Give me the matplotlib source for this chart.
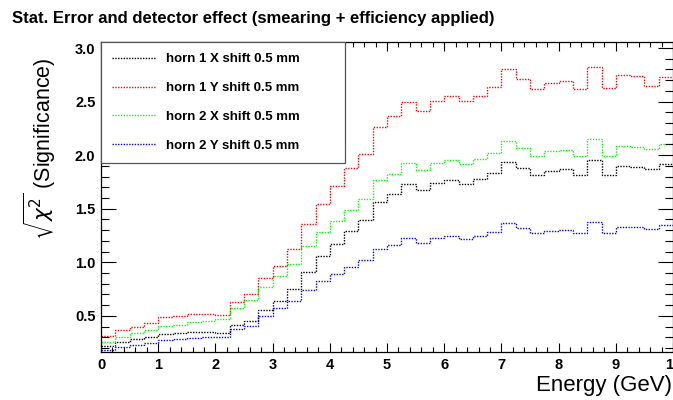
import numpy as np
import matplotlib
matplotlib.use("Agg")
import matplotlib.pyplot as plt
from matplotlib.ticker import MultipleLocator, FormatStrFormatter

plt.rcParams['font.family'] = ['Liberation Sans', 'DejaVu Sans']
plt.rcParams['mathtext.fontset'] = 'dejavusans'

# ----------- Data (40 energy bins, 0.25 GeV wide) -----------
bin_edges = np.linspace(0.0, 10.0, 41)

horn1_x = [0.219, 0.257, 0.285, 0.300, 0.333, 0.340, 0.350, 0.350, 0.337, 0.413,
           0.452, 0.554, 0.635, 0.751, 0.910, 1.056, 1.170, 1.288, 1.394, 1.562,
           1.637, 1.731, 1.675, 1.744, 1.772, 1.735, 1.778, 1.831, 1.934, 1.881,
           1.815, 1.853, 1.869, 1.813, 1.956, 1.813, 1.900, 1.890, 1.872, 1.913]
horn1_y = [0.316, 0.369, 0.400, 0.435, 0.485, 0.503, 0.520, 0.518, 0.507, 0.632,
           0.705, 0.854, 0.963, 1.126, 1.355, 1.548, 1.708, 1.876, 2.013, 2.260,
           2.363, 2.500, 2.415, 2.510, 2.550, 2.506, 2.556, 2.640, 2.800, 2.712,
           2.620, 2.672, 2.690, 2.619, 2.822, 2.625, 2.747, 2.737, 2.647, 2.734]
horn2_x = [0.254, 0.306, 0.341, 0.369, 0.410, 0.419, 0.444, 0.456, 0.470, 0.578,
           0.650, 0.772, 0.869, 0.985, 1.150, 1.283, 1.384, 1.490, 1.594, 1.766,
           1.828, 1.925, 1.862, 1.930, 1.952, 1.916, 1.963, 2.019, 2.134, 2.066,
           1.994, 2.040, 2.050, 1.994, 2.147, 1.990, 2.087, 2.078, 2.056, 2.103]
horn2_y = [0.180, 0.205, 0.230, 0.246, 0.271, 0.285, 0.296, 0.300, 0.300, 0.380,
           0.410, 0.502, 0.575, 0.635, 0.738, 0.830, 0.888, 0.953, 1.017, 1.126,
           1.157, 1.225, 1.182, 1.229, 1.247, 1.216, 1.241, 1.285, 1.363, 1.316,
           1.272, 1.294, 1.304, 1.269, 1.372, 1.269, 1.332, 1.325, 1.309, 1.347]

labels = ["horn 1 X shift 0.5 mm", "horn 1 Y shift 0.5 mm",
          "horn 2 X shift 0.5 mm", "horn 2 Y shift 0.5 mm"]
colors = ["#000000", "#ff0000", "#00ff00", "#0000ff"]

# ----------- Plot -----------
fig = plt.figure(figsize=(6.73, 4.0), dpi=100)
ax = fig.add_axes([101 / 673, 48 / 400, 572 / 673, 310 / 400])

for vals, lab, col in zip([horn1_x, horn1_y, horn2_x, horn2_y], labels, colors):
    ax.stairs(vals, bin_edges, baseline=None, color=col, linewidth=1.0,
              linestyle=(0, (1, 1)), label=lab)

ax.set_xlim(0, 10)
ax.set_ylim(0.163, 3.056)

ax.xaxis.set_major_locator(MultipleLocator(1))
ax.xaxis.set_minor_locator(MultipleLocator(0.2))
ax.yaxis.set_major_locator(MultipleLocator(0.5))
ax.yaxis.set_minor_locator(MultipleLocator(0.1))
ax.yaxis.set_major_formatter(FormatStrFormatter('%.1f'))

ax.tick_params(which='both', direction='in', top=True, right=True, width=0.8)
ax.tick_params(axis='y', which='major', length=11, pad=4)
ax.tick_params(axis='y', which='minor', length=5.5)
ax.tick_params(axis='x', which='major', length=6.5, pad=4)
ax.tick_params(axis='x', which='minor', length=3.3)
for lbl in ax.get_xticklabels() + ax.get_yticklabels():
    lbl.set_fontweight('bold')
    lbl.set_fontsize(10.5)
for sp in ax.spines.values():
    sp.set_linewidth(0.9)

leg = ax.legend(loc='upper left', bbox_to_anchor=(0.0, 0.61, 0.427, 0.39),
                mode='expand', borderaxespad=0, fancybox=False, framealpha=1,
                edgecolor='#555555', handlelength=3.3, handletextpad=0.75,
                labelspacing=1.25, borderpad=0.85,
                prop={'weight': 'bold', 'size': 9.5})
leg.get_frame().set_linewidth(0.9)

fig.text(12 / 673, 1 - 18 / 400,
         "Stat. Error and detector effect (smearing + efficiency applied)",
         fontsize=12, fontweight='bold', ha='left', va='center')
fig.text(40 / 673, 1 - 58 / 400, r"$\sqrt{\chi^2}$ (Significance)",
         fontsize=15.5, rotation=90, ha='center', va='top')
fig.text(672 / 673, 1 - 385 / 400, "Energy (GeV)",
         fontsize=16, ha='right', va='center')

plt.savefig("out.png", dpi=100)
